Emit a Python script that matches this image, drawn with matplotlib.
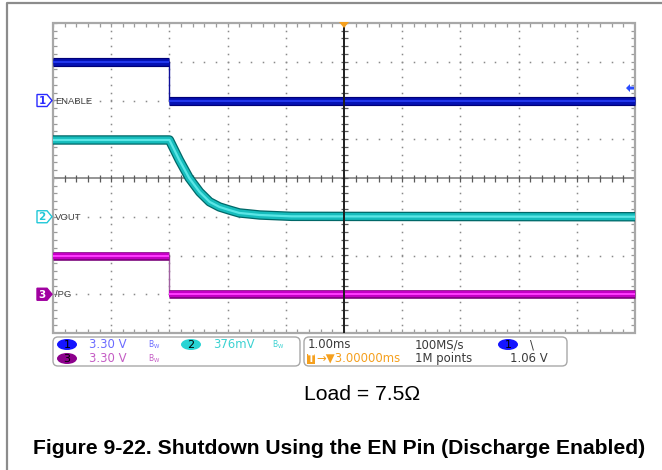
import matplotlib
matplotlib.use("Agg")
import matplotlib.pyplot as plt
from matplotlib.patches import Rectangle, FancyBboxPatch, Ellipse, Polygon
from matplotlib.collections import LineCollection
import numpy as np

# scope settings
time_div = 1.0                      # ms/div
t_left, t_right = -2.0, 8.0         # screen spans 10 div, trigger at t = 0
ch_vdiv = [3.30, 0.376, 3.30]       # V/div for ENABLE, VOUT, /PG
ch_zero = [2.0, -1.0, -3.0]         # ground position of each channel, in div
ch_names = ["ENABLE", "VOUT", "/PG"]
trig_level = 1.06                   # V, on channel 1

# ENABLE: step down at trigger
en_t = [-2.0, 0.0, 0.0, 8.0]
en_v = [3.30, 3.30, 0.0, 0.0]

# VOUT: discharge through 7.5 ohm load
vout_t = [-2.0, 0.0, 0.17, 0.34, 0.52, 0.69, 0.86, 1.03, 1.20, 1.38, 1.55, 2.10, 8.0]
vout_v = [0.745, 0.745, 0.551, 0.376, 0.240, 0.145, 0.095, 0.065, 0.037, 0.027, 0.017, 0.004, 0.0]

# /PG: goes low with ENABLE
pg_t = [-2.0, 0.0, 0.0, 8.0]
pg_v = [3.30, 3.30, 0.0, 0.0]

W, H = 662, 470
fig = plt.figure(figsize=(W / 100, H / 100), dpi=100)
fig.patch.set_facecolor("white")

# graticule area in pixels
gx0, gx1, gy0, gy1 = 53, 635, 23, 333
ax = fig.add_axes([gx0 / W, (H - gy1) / H, (gx1 - gx0) / W, (gy1 - gy0) / H])
ax.set_xlim(t_left, t_right)
ax.set_ylim(-4, 4)
ax.axis("off")

px_x = (t_right - t_left) / (gx1 - gx0)   # data units per pixel
px_y = 8.0 / (gy1 - gy0)

# dotted graticule
minor_x = np.arange(t_left, t_right + 1e-6, 0.2 * time_div)
minor_y = np.arange(-4, 4 + 1e-6, 0.2)
for yk in [-3, -2, -1, 1, 2, 3]:
    ax.plot(minor_x, np.full_like(minor_x, yk), ls="none", marker="s", ms=1.1,
            mec="none", mfc="#8a8a8a", zorder=1)
for xk in [-1, 0, 1, 2, 4, 5, 6, 7]:
    ax.plot(np.full_like(minor_y, xk), minor_y, ls="none", marker="s", ms=1.1,
            mec="none", mfc="#8a8a8a", zorder=1)

# centre cross with minor ticks
ax.axhline(0, color="#8c8c8c", lw=1.3, zorder=1)
ax.axvline(3, color="#1e1e1e", lw=1.4, zorder=6)
segs = [[(x, -3.5 * px_y), (x, 3.5 * px_y)] for x in minor_x]
segs += [[(3 - 3.5 * px_x, y), (3 + 3.5 * px_x, y)] for y in minor_y]
ax.add_collection(LineCollection(segs, colors="#5a5a5a", lw=0.9, zorder=1))

# border with inward ticks
segs = []
for x in minor_x:
    segs.append([(x, 4), (x, 4 - 4 * px_y)])
    segs.append([(x, -4), (x, -4 + 4 * px_y)])
for y in minor_y:
    segs.append([(t_left, y), (t_left + 4 * px_x, y)])
    segs.append([(t_right, y), (t_right - 4 * px_x, y)])
ax.add_collection(LineCollection(segs, colors="#9a9a9a", lw=0.9, zorder=1))
ax.add_patch(Rectangle((t_left, -4), t_right - t_left, 8, fill=False,
                       ec="#a8a8a8", lw=1.6, zorder=2, clip_on=False))


def to_div(v, ch):
    return np.asarray(v) / ch_vdiv[ch] + ch_zero[ch]


def trace(t, y, colors, widths):
    for c, w in zip(colors, widths):
        ax.plot(t, y, color=c, lw=w, solid_capstyle="butt",
                solid_joinstyle="round", zorder=4, clip_on=False)


blue = ["#000078", "#0512b4", "#2238ee"]
cyan = ["#006868", "#16bcbc", "#5ae6e6"]
mag = ["#780078", "#c400c4", "#ff3cff"]

# ENABLE
y = to_div(en_v, 0)
ax.plot(en_t, y, color="#10109a", lw=1.0, zorder=4)
trace(en_t[:2], y[:2], blue, [6.6, 4.8, 1.4])
trace(en_t[2:], y[2:], blue, [6.6, 4.8, 1.4])

# VOUT
y = to_div(vout_v, 1)
trace(vout_t, y, cyan, [6.8, 5.0, 1.6])

# /PG
y = to_div(pg_v, 2)
ax.plot(pg_t, y, color="#a060a0", lw=1.0, zorder=4)
trace(pg_t[:2], y[:2], mag, [6.2, 4.6, 1.4])
trace(pg_t[2:], y[2:], mag, [6.2, 4.6, 1.4])

# overlay in pixel coordinates for the screen furniture
ov = fig.add_axes([0, 0, 1, 1], zorder=5)
ov.set_xlim(0, W)
ov.set_ylim(H, 0)
ov.axis("off")
ov.patch.set_alpha(0)

# page frame
ov.plot([7, 7, W], [H, 3, 3], color="#8c8c8c", lw=1.6, solid_capstyle="butt")


def ch_ypix(ch):
    return gy0 + (4 - ch_zero[ch]) * (gy1 - gy0) / 8


# channel ground markers and names
marker_cols = ["#2a2aff", "#20c8d8", "#a000a0"]
for ch in range(3):
    yc = ch_ypix(ch)
    pts = [(37, yc - 6), (47, yc - 6), (52, yc), (47, yc + 6), (37, yc + 6)]
    filled = ch == 2
    ov.add_patch(Polygon(pts, closed=True, fc=marker_cols[ch] if filled else "white",
                         ec=marker_cols[ch], lw=1.0))
    ov.text(42, yc + 0.5, str(ch + 1), color="white" if filled else marker_cols[ch],
            fontsize=7.5, ha="center", va="center", fontweight="bold")
    ov.text(55, yc + 0.5, ch_names[ch], color="#404040", fontsize=6.8,
            family="Liberation Sans", ha="left", va="center")

# trigger markers
ov.add_patch(Polygon([(339, 22), (349, 22), (344, 28)], closed=True, fc="#f5a01e", ec="none"))
ty = ch_ypix(0) - trig_level / ch_vdiv[0] * (gy1 - gy0) / 8
ov.add_patch(Polygon([(626, ty), (630, ty - 4), (630, ty - 1.5), (634, ty - 1.5),
                      (634, ty + 1.5), (630, ty + 1.5), (630, ty + 4)],
                     closed=True, fc="#2a4cff", ec="none"))

# readout boxes
for x0, x1 in [(53, 300), (304, 567)]:
    ov.add_patch(FancyBboxPatch((x0, 337), x1 - x0, 29,
                                boxstyle="round,pad=0,rounding_size=5",
                                fc="white", ec="#a8a8a8", lw=1.0))


def badge(x, y, num, col):
    ov.add_patch(Ellipse((x, y), 20, 11, fc=col, ec="none"))
    ov.text(x, y + 0.5, num, fontsize=8, ha="center", va="center", color="black")


r1, r2 = 344.5, 358.5
badge(67, r1, "1", "#1414ff")
badge(67, r2, "3", "#8c008c")
badge(191, r1, "2", "#28d4d4")
badge(508, r1, "1", "#1414ff")

fs = 8.4
bw = r"$\mathregular{B_W}$"
ov.text(89, r1, "%.2f V" % ch_vdiv[0], color="#6b6bff", fontsize=fs, va="center")
ov.text(89, r2, "%.2f V" % ch_vdiv[2], color="#c45cc4", fontsize=fs, va="center")
ov.text(213, r1, "%dmV" % round(ch_vdiv[1] * 1000), color="#3cd2d2", fontsize=fs, va="center")
ov.text(148, r1, bw, color="#6b6bff", fontsize=5.5, va="center")
ov.text(148, r2, bw, color="#c45cc4", fontsize=5.5, va="center")
ov.text(272, r1, bw, color="#3cd2d2", fontsize=5.5, va="center")

ov.text(308, r1, "%.2fms" % time_div, color="#3a3a3a", fontsize=fs, va="center")
ov.text(415, r1, "100MS/s", color="#3a3a3a", fontsize=fs, va="center")
ov.text(415, r2, "1M points", color="#3a3a3a", fontsize=fs, va="center")
ov.text(530, r1, "\\", color="#3a3a3a", fontsize=fs, va="center")
ov.text(510, r2, "%.2f V" % trig_level, color="#3a3a3a", fontsize=fs, va="center")
ov.add_patch(Rectangle((307, r2 - 5), 8, 10, fc="#f5a01e", ec="none"))
ov.text(311, r2 + 0.5, "T", color="white", fontsize=7, ha="center", va="center",
        fontweight="bold")
ov.text(316, r2, "\u2192\u25bc%.5fms" % (-t_left + 1.0), color="#f5a01e",
        fontsize=fs, va="center")

# captions
ov.text(362, 394, "Load = 7.5\u03a9", family="Liberation Sans", fontsize=15.2,
        ha="center", va="center", color="black")
ov.text(339, 448, "Figure 9-22. Shutdown Using the EN Pin (Discharge Enabled)",
        family="Liberation Sans", fontweight="bold", fontsize=15.2,
        ha="center", va="center", color="black")

fig.savefig("out.png", dpi=100)
